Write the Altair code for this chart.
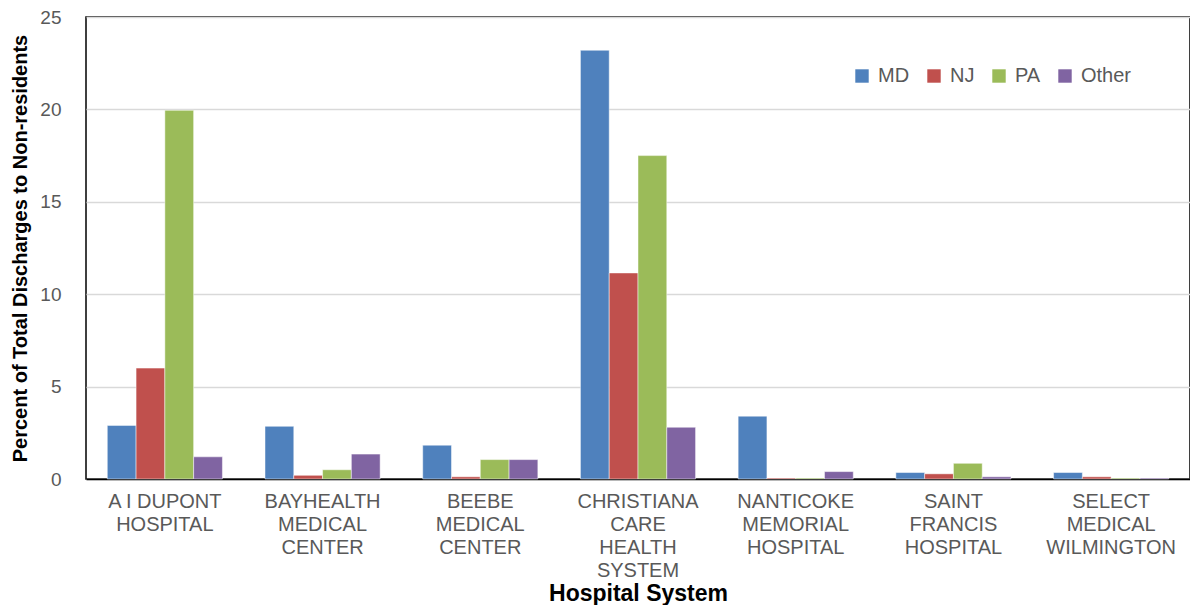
import altair as alt
import pandas as pd

hospitals = [
    "A I DUPONT|HOSPITAL",
    "BAYHEALTH|MEDICAL|CENTER",
    "BEEBE|MEDICAL|CENTER",
    "CHRISTIANA|CARE|HEALTH|SYSTEM",
    "NANTICOKE|MEMORIAL|HOSPITAL",
    "SAINT|FRANCIS|HOSPITAL",
    "SELECT|MEDICAL|WILMINGTON",
]
states = ["MD", "NJ", "PA", "Other"]
colors = ["#4F81BD", "#C0504D", "#9BBB59", "#8064A2"]

md = [2.9, 2.85, 1.83, 23.2, 3.4, 0.35, 0.35]
nj = [6.0, 0.2, 0.12, 11.15, 0.05, 0.28, 0.12]
pa = [19.95, 0.5, 1.05, 17.5, 0.05, 0.85, 0.05]
other = [1.2, 1.35, 1.05, 2.8, 0.4, 0.12, 0.05]

rows = []
for series, vals in zip(states, [md, nj, pa, other]):
    for h, v in zip(hospitals, vals):
        rows.append({"Hospital": h, "State": series, "Value": v})
df = pd.DataFrame(rows)

FONT = "Liberation Sans"

chart = alt.Chart(df).mark_bar(stroke="white", strokeWidth=0.8, strokeOpacity=0.6).encode(
    x=alt.X("Hospital:N", sort=hospitals,
            scale=alt.Scale(paddingInner=0.27, paddingOuter=0.135),
            axis=alt.Axis(title="Hospital System", labelAngle=0,
                          labelExpr="split(datum.label, '|')",
                          labelFont=FONT, labelFontSize=20, labelColor="#595959",
                          labelLineHeight=23, labelPadding=12, ticks=False,
                          domainColor="black", domainWidth=1.5,
                          titleFont=FONT, titleFontSize=23, titleFontWeight="bold",
                          titleColor="black", titlePadding=2)),
    xOffset=alt.XOffset("State:N", sort=states),
    y=alt.Y("Value:Q", scale=alt.Scale(domain=[0, 25]),
            axis=alt.Axis(title="Percent of Total Discharges to Non-residents",
                          values=[0, 5, 10, 15, 20, 25], ticks=False, domain=False,
                          labelFont=FONT, labelFontSize=19, labelColor="#595959",
                          labelPadding=25, gridColor="#D9D9D9", gridWidth=1.5,
                          titleFont=FONT, titleFontSize=20, titleFontWeight="bold",
                          titleColor="black", titlePadding=9)),
    color=alt.Color("State:N", sort=states,
                    scale=alt.Scale(domain=states, range=colors),
                    legend=alt.Legend(title=None, orient="none", direction="horizontal",
                                      legendX=766, legendY=49, symbolType="square",
                                      symbolSize=180, symbolStrokeWidth=0,
                                      labelFont=FONT, labelFontSize=20,
                                      labelColor="#595959", columnPadding=14,
                                      labelOffset=6)),
).properties(
    width=1104, height=462,
    autosize=alt.AutoSizeParams(type="none"),
    padding={"left": 78, "top": 9, "right": 0, "bottom": 126},
).configure_view(stroke="black", strokeWidth=1.5)

chart.save("out.html", embed_options={"renderer": "svg", "actions": False})
